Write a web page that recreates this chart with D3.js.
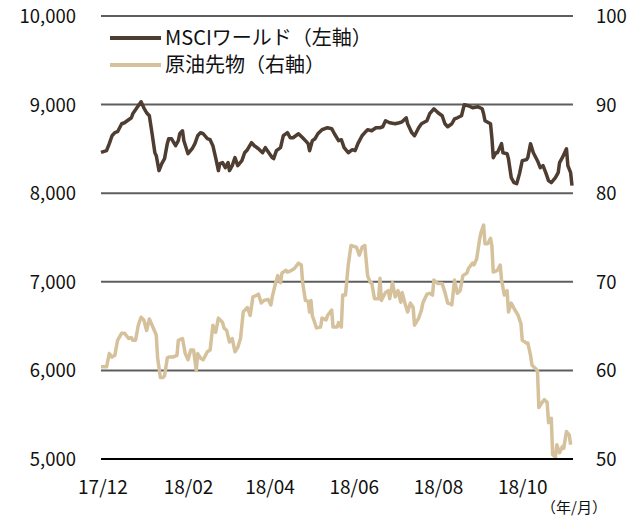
<!DOCTYPE html>
<html><head><meta charset="utf-8">
<script src="https://cdn.jsdelivr.net/npm/d3@7"></script>
<style>
html,body{margin:0;padding:0;background:#fff;}
text{font-family:"Noto Sans CJK JP","Noto Sans",sans-serif;fill:#111;}
</style></head>
<body><svg id="chart" width="642" height="517"></svg>
<script>
const startDate = "2017-11-30";
const spanDays = 341;
const tickLabels = ["17/12","18/02","18/04","18/06","18/08","18/10"];
const leftTicks = [5000,6000,7000,8000,9000,10000];
const rightTicks = [50,60,70,80,90,100];
const seriesNames = ["MSCIワールド（左軸）","原油先物（右軸）"];
const unitLabel = "（年/月）";

const msciDays = [0,4,6,8,10,12,15,17,20,22,23,26,29,31,33,35,37,39,40,42,44,46,48,49,51,54,56,57,59,60,63,66,68,70,72,74,77,79,81,83,85,86,88,90,92,93,95,97,99,102,104,106,109,111,114,117,119,121,124,125,127,130,132,135,137,139,143,146,148,150,151,153,155,157,160,164,167,169,172,174,176,179,182,184,186,189,191,193,196,199,202,204,206,209,213,216,218,221,222,225,227,230,232,236,238,241,244,247,249,251,254,256,258,261,263,266,269,273,276,277,278,282,283,284,286,287,290,291,294,295,297,299,301,303,305,308,309,311,313,316,318,320,322,324,326,329,331,332,334,337,338,340,341];
const msciValues = [8461,8480,8559,8649,8683,8694,8784,8795,8829,8851,8896,8964,9032,8964,8908,8874,8671,8457,8424,8255,8334,8390,8559,8615,8615,8536,8593,8671,8705,8593,8446,8502,8559,8649,8683,8671,8615,8604,8536,8401,8255,8334,8345,8288,8345,8255,8311,8401,8311,8367,8457,8491,8570,8536,8502,8457,8514,8469,8401,8390,8480,8514,8649,8683,8626,8626,8671,8626,8593,8559,8480,8593,8615,8671,8716,8739,8728,8671,8593,8604,8514,8457,8491,8480,8559,8649,8683,8716,8705,8739,8739,8750,8818,8795,8784,8795,8806,8851,8784,8683,8649,8739,8784,8818,8897,8953,8908,8874,8784,8750,8784,8840,8851,8874,8998,8987,8964,8975,8953,8897,8818,8784,8626,8401,8457,8457,8559,8457,8446,8390,8176,8120,8108,8221,8367,8379,8401,8559,8457,8367,8288,8311,8232,8142,8120,8176,8232,8345,8401,8502,8311,8232,8086];

const oilDays = [0,4,6,8,10,12,15,17,20,22,23,25,27,29,31,33,35,37,40,41,43,45,46,48,49,52,55,56,59,61,63,65,67,69,70,72,74,77,79,81,83,85,88,89,91,93,95,97,99,101,103,106,108,110,113,114,116,118,121,123,124,126,128,130,131,134,135,138,140,143,145,146,148,150,151,152,153,156,159,160,163,164,167,168,171,172,174,175,177,179,181,183,185,187,189,191,193,195,196,198,201,202,203,206,208,209,211,213,215,217,218,220,222,224,226,227,230,232,233,236,238,240,241,244,247,249,251,253,254,256,258,260,262,265,266,269,270,272,274,275,277,278,280,282,283,284,287,289,290,292,294,295,297,299,302,304,305,308,309,311,312,314,316,317,319,321,323,324,326,327,329,330,332,334,335,337,339,340];
const oilValues = [60.4,60.4,61.9,61.5,61.7,63.4,64.2,64.2,63.6,63.7,63.4,63.4,65.1,66.0,65.7,64.5,65.8,65.1,64.0,61.4,59.2,59.2,59.4,61.4,61.5,61.5,61.7,63.4,63.6,61.9,61.2,62.3,62.3,60.0,61.9,61.4,61.2,62.1,62.3,65.1,64.3,65.9,65.4,64.8,64.5,63.2,63.6,62.1,62.6,63.6,66.6,67.1,66.2,68.3,68.5,68.6,67.6,67.9,68.0,67.4,68.3,69.6,70.7,69.9,71.0,71.3,71.1,71.3,71.5,72.1,71.9,69.9,67.9,67.8,66.6,67.9,66.2,64.8,64.9,65.9,65.7,66.2,66.8,64.9,64.9,65.4,64.9,68.5,68.5,71.9,74.1,74.0,73.9,73.0,73.9,74.1,70.7,69.9,69.9,68.1,68.1,70.4,67.9,68.8,69.0,68.1,69.9,68.3,69.0,67.7,68.8,67.6,66.6,67.6,67.1,65.1,65.9,66.8,67.6,68.6,68.7,68.5,70.2,69.8,69.8,68.8,67.6,67.5,67.4,70.2,68.7,69.0,70.7,71.0,71.5,72.1,71.9,72.6,74.7,75.5,76.4,74.3,74.3,74.9,74.1,71.1,71.3,71.9,70.2,68.5,69.0,66.6,67.6,67.0,66.2,65.3,63.4,63.1,63.1,61.7,60.6,60.3,60.0,55.8,56.3,56.7,56.4,54.1,54.6,50.5,50.2,51.6,50.7,51.4,51.2,53.1,52.7,51.6];

const colors = {msci:"#4e3d30", oil:"#d5c19c"};

const svg = d3.select("#chart");
const t0 = d3.timeParse("%Y-%m-%d")(startDate);
const x = d3.scaleTime().domain([t0, d3.timeDay.offset(t0, spanDays)]).range([101, 572]);
const yL = d3.scaleLinear().domain([5000,10000]).range([459,16]);
const yR = d3.scaleLinear().domain([50,100]).range([459,16]);
const parseTick = d3.timeParse("%y/%m");

// gridlines
svg.append("g").selectAll("line").data(leftTicks.filter(v=>v>5000)).join("line")
  .attr("x1",101).attr("x2",573).attr("y1",d=>yL(d)).attr("y2",d=>yL(d))
  .attr("stroke","#5e5e5e").attr("stroke-width",2);

// left axis
const gL = svg.append("g").attr("transform","translate(76,0)")
  .call(d3.axisLeft(yL).tickValues(leftTicks).tickSize(0).tickPadding(0).tickFormat(d3.format(",")));
gL.select(".domain").remove();
gL.selectAll("text").style("font-size","18.5px").attr("dy","0.35em").attr("fill","#111");

// right axis
const gR = svg.append("g").attr("transform","translate(596,0)")
  .call(d3.axisRight(yR).tickValues(rightTicks).tickSize(0).tickPadding(0));
gR.select(".domain").remove();
gR.selectAll("text").style("font-size","18.5px").attr("dy","0.35em").attr("fill","#111");

// lines
const lineFn = (xs, ys, yScale) => d3.line().x((d,i)=>x(d3.timeDay.offset(t0, xs[i]))).y((d,i)=>yScale(ys[i]))(xs);
svg.append("path").attr("d", lineFn(oilDays, oilValues, yR))
  .attr("fill","none").attr("stroke",colors.oil).attr("stroke-width",3.5).attr("stroke-linejoin","round");
svg.append("path").attr("d", lineFn(msciDays, msciValues, yL))
  .attr("fill","none").attr("stroke",colors.msci).attr("stroke-width",3.5).attr("stroke-linejoin","round");

// baseline
svg.append("line").attr("x1",101).attr("x2",573).attr("y1",yL(5000)).attr("y2",yL(5000))
  .attr("stroke","#000").attr("stroke-width",2);

// x axis
const gX = svg.append("g").attr("transform","translate(0,487)")
  .call(d3.axisBottom(x).tickValues(tickLabels.map(parseTick)).tickSize(0).tickPadding(0).tickFormat(d3.timeFormat("%y/%m")));
gX.select(".domain").remove();
gX.selectAll("text").style("font-size","19px").attr("dy","0.35em").attr("y",0).attr("fill","#111");

svg.append("text").attr("x",607).attr("y",508).attr("text-anchor","end").attr("dy","0.35em")
  .style("font-size","15px").text(unitLabel);

// legend
const leg = svg.append("g");
[["msci",38],["oil",65]].forEach(([k,yy],i)=>{
  leg.append("line").attr("x1",110).attr("x2",161).attr("y1",yy).attr("y2",yy)
    .attr("stroke",colors[k]).attr("stroke-width",4);
  leg.append("text").attr("x",165).attr("y",yy).attr("dy","0.35em")
    .style("font-size","20px").text(seriesNames[i]);
});
</script></body></html>
